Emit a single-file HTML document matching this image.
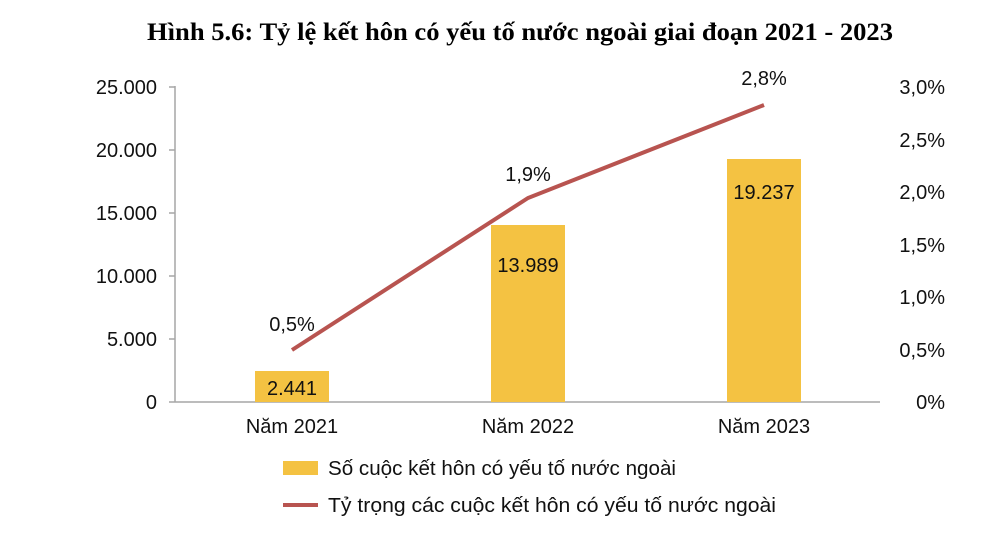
<!DOCTYPE html>
<html><head><meta charset="utf-8"><style>
body{margin:0;background:#fff;}
</style></head><body>
<svg width="1000" height="540" xmlns="http://www.w3.org/2000/svg" style="display:block">
<text x="147" y="40" textLength="746" lengthAdjust="spacingAndGlyphs" font-family="Liberation Serif, serif" font-weight="bold" font-size="25" fill="#000">Hình 5.6: Tỷ lệ kết hôn có yếu tố nước ngoài giai đoạn 2021 - 2023</text>
<g font-family="Liberation Sans, sans-serif" font-size="20" fill="#111">
<text x="157" y="94" text-anchor="end">25.000</text>
<text x="157" y="157" text-anchor="end">20.000</text>
<text x="157" y="220" text-anchor="end">15.000</text>
<text x="157" y="283" text-anchor="end">10.000</text>
<text x="157" y="346" text-anchor="end">5.000</text>
<text x="157" y="409" text-anchor="end">0</text>
<text x="945" y="94" text-anchor="end">3,0%</text>
<text x="945" y="147" text-anchor="end">2,5%</text>
<text x="945" y="199" text-anchor="end">2,0%</text>
<text x="945" y="252" text-anchor="end">1,5%</text>
<text x="945" y="304" text-anchor="end">1,0%</text>
<text x="945" y="357" text-anchor="end">0,5%</text>
<text x="945" y="409" text-anchor="end">0%</text>
</g>
<g stroke="#a6a6a6" stroke-width="1.5" fill="none">
<line x1="175" y1="86" x2="175" y2="402"/>
<line x1="169" y1="402" x2="880" y2="402"/>
<line x1="169" y1="87" x2="175" y2="87"/>
<line x1="169" y1="150" x2="175" y2="150"/>
<line x1="169" y1="213" x2="175" y2="213"/>
<line x1="169" y1="276" x2="175" y2="276"/>
<line x1="169" y1="339" x2="175" y2="339"/>
</g>
<g fill="#f4c242">
<rect x="255" y="371" width="74" height="31"/>
<rect x="491" y="225" width="74" height="177"/>
<rect x="727" y="159" width="74" height="243"/>
</g>
<polyline points="292,350 528,198 764,105" fill="none" stroke="#b85450" stroke-width="4"/>
<g font-family="Liberation Sans, sans-serif" font-size="20" fill="#111" text-anchor="middle">
<text x="292" y="395">2.441</text>
<text x="528" y="272">13.989</text>
<text x="764" y="199">19.237</text>
<text x="292" y="331">0,5%</text>
<text x="528" y="181">1,9%</text>
<text x="764" y="85">2,8%</text>
<text x="292" y="433">Năm 2021</text>
<text x="528" y="433">Năm 2022</text>
<text x="764" y="433">Năm 2023</text>
</g>
<rect x="283" y="461" width="35" height="14" fill="#f4c242"/>
<line x1="283" y1="505" x2="318" y2="505" stroke="#b85450" stroke-width="4"/>
<g font-family="Liberation Sans, sans-serif" font-size="20" fill="#111">
<text x="328" y="475" textLength="348" lengthAdjust="spacingAndGlyphs">Số cuộc kết hôn có yếu tố nước ngoài</text>
<text x="328" y="512" textLength="448" lengthAdjust="spacingAndGlyphs">Tỷ trọng các cuộc kết hôn có yếu tố nước ngoài</text>
</g>
</svg>
</body></html>
